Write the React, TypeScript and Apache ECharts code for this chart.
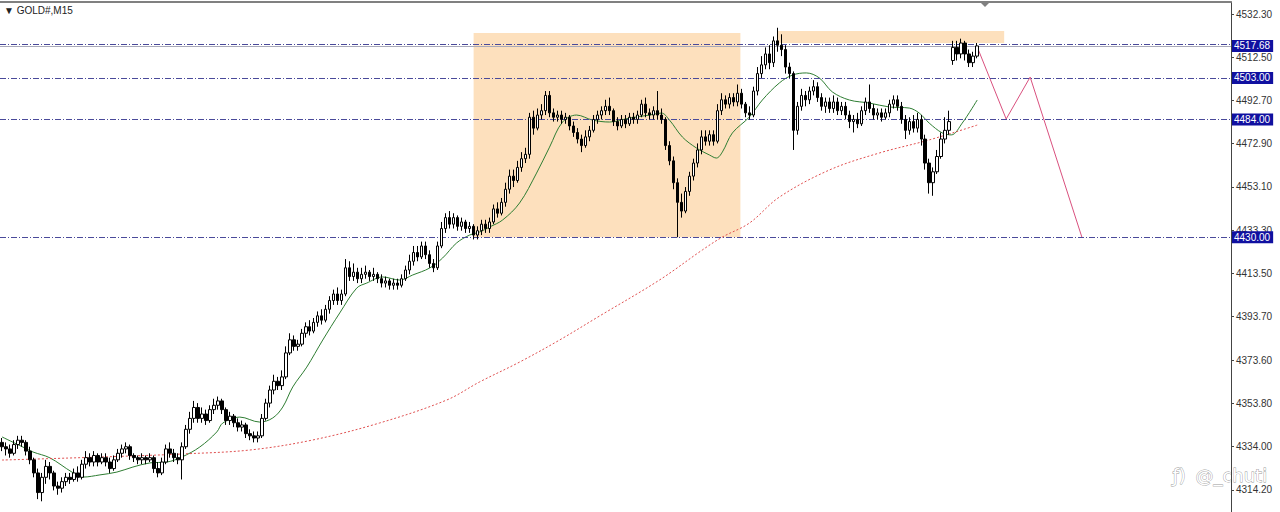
import React, { useEffect, useRef } from "react";
import * as echarts from "echarts";

// [open, close, low, high] per M15 bar
const candles: number[][] = [
  [4336,4334,4332,4338],[4334,4333,4330,4336],[4333,4331,4329,4335],[4331,4335,4330,4337],
  [4335,4337,4333,4339],[4337,4336,4334,4339],[4336,4332,4330,4337],[4332,4328,4326,4334],
  [4328,4322,4320,4329],[4322,4313,4310,4324],[4313,4320,4309,4322],[4320,4325,4317,4328],
  [4325,4322,4319,4327],[4322,4316,4314,4323],[4316,4315,4312,4318],[4315,4318,4313,4320],
  [4318,4320,4316,4322],[4320,4319,4317,4322],[4319,4322,4318,4324],[4322,4320,4318,4325],
  [4320,4326,4319,4328],[4326,4329,4324,4332],[4329,4327,4325,4331],[4327,4330,4325,4332],
  [4330,4327,4325,4331],[4327,4329,4326,4331],[4329,4327,4325,4331],[4327,4324,4322,4329],
  [4324,4328,4323,4330],[4328,4331,4327,4333],[4331,4333,4329,4335],[4333,4334,4331,4336],
  [4334,4330,4328,4335],[4330,4329,4327,4331],[4329,4328,4326,4330],[4328,4329,4326,4331],
  [4329,4328,4326,4330],[4328,4329,4327,4331],[4329,4324,4322,4330],[4324,4322,4320,4327],
  [4322,4327,4321,4329],[4327,4333,4326,4335],[4333,4331,4329,4336],[4331,4329,4327,4333],
  [4329,4328,4326,4331],[4328,4334,4319,4336],[4334,4342,4333,4344],[4342,4347,4340,4350],
  [4347,4352,4345,4355],[4352,4347,4345,4354],[4347,4349,4345,4352],[4349,4346,4344,4351],
  [4346,4351,4345,4353],[4351,4353,4349,4356],[4353,4355,4351,4357],[4355,4351,4349,4356],
  [4351,4346,4344,4352],[4346,4348,4344,4350],[4348,4345,4343,4349],[4345,4343,4341,4347],
  [4343,4344,4341,4346],[4344,4340,4338,4345],[4340,4339,4337,4342],[4339,4338,4336,4341],
  [4338,4339,4336,4341],[4339,4347,4338,4349],[4347,4354,4346,4356],[4354,4360,4352,4362],
  [4360,4364,4358,4367],[4364,4362,4360,4366],[4362,4366,4360,4369],[4366,4377,4365,4380],
  [4377,4383,4376,4386],[4383,4380,4378,4385],[4380,4381,4378,4383],[4381,4386,4380,4388],
  [4386,4389,4384,4391],[4389,4387,4385,4392],[4387,4391,4386,4393],[4391,4394,4389,4396],
  [4394,4392,4390,4397],[4392,4397,4391,4399],[4397,4401,4395,4403],[4401,4404,4399,4406],
  [4404,4401,4399,4407],[4401,4404,4399,4406],[4404,4416,4403,4420],[4416,4412,4410,4419],
  [4412,4414,4410,4418],[4414,4411,4409,4416],[4411,4413,4409,4416],[4413,4414,4411,4417],
  [4414,4412,4410,4415],[4412,4413,4410,4416],[4413,4411,4409,4414],[4411,4409,4407,4413],
  [4409,4410,4407,4412],[4410,4408,4406,4411],[4408,4409,4406,4411],[4409,4408,4406,4411],
  [4408,4411,4407,4413],[4411,4415,4410,4417],[4415,4419,4413,4422],[4419,4423,4417,4426],
  [4423,4421,4419,4426],[4421,4426,4420,4428],[4426,4422,4420,4428],[4422,4418,4416,4424],
  [4418,4416,4414,4420],[4416,4426,4415,4428],[4426,4434,4425,4437],[4434,4439,4432,4441],
  [4439,4436,4434,4442],[4436,4439,4434,4441],[4439,4435,4433,4440],[4435,4437,4433,4439],
  [4437,4434,4432,4438],[4434,4435,4432,4437],[4435,4431,4429,4436],[4431,4433,4429,4435],
  [4433,4436,4431,4438],[4436,4434,4432,4438],[4434,4437,4432,4439],[4437,4443,4436,4445],
  [4443,4441,4439,4446],[4441,4446,4440,4448],[4446,4452,4444,4455],[4452,4458,4450,4461],
  [4458,4456,4453,4461],[4456,4462,4455,4465],[4462,4466,4460,4469],[4466,4468,4464,4471],
  [4468,4485,4466,4487],[4485,4480,4477,4488],[4480,4486,4479,4489],[4486,4488,4484,4491],
  [4488,4495,4486,4497],[4495,4487,4485,4497],[4487,4485,4483,4489],[4485,4486,4483,4488],
  [4486,4484,4482,4488],[4484,4485,4482,4487],[4485,4481,4479,4486],[4481,4478,4476,4483],
  [4478,4475,4473,4480],[4475,4472,4469,4477],[4472,4476,4471,4479],[4476,4479,4474,4481],
  [4479,4484,4478,4486],[4484,4486,4482,4488],[4486,4488,4484,4490],[4488,4490,4486,4493],
  [4490,4488,4486,4494],[4488,4483,4481,4489],[4483,4481,4479,4485],[4481,4484,4480,4486],
  [4484,4482,4480,4486],[4482,4485,4481,4487],[4485,4484,4482,4487],[4484,4486,4482,4488],
  [4486,4491,4485,4493],[4491,4487,4485,4494],[4487,4486,4484,4489],[4486,4488,4484,4490],
  [4488,4486,4484,4497],[4486,4484,4482,4489],[4484,4472,4470,4485],[4472,4465,4463,4474],
  [4465,4455,4452,4467],[4455,4446,4430,4457],[4446,4442,4439,4450],[4442,4451,4441,4453],
  [4451,4458,4449,4460],[4458,4464,4456,4466],[4464,4470,4462,4473],[4470,4476,4468,4479],
  [4476,4474,4472,4479],[4474,4477,4472,4479],[4477,4474,4472,4479],[4474,4488,4473,4491],
  [4488,4493,4486,4496],[4493,4491,4489,4495],[4491,4494,4489,4496],[4494,4492,4490,4496],
  [4492,4496,4490,4500],[4496,4491,4489,4498],[4491,4487,4485,4492],[4487,4486,4484,4490],
  [4486,4497,4485,4499],[4497,4505,4495,4508],[4505,4509,4503,4513],[4509,4514,4507,4517],
  [4514,4510,4507,4518],[4510,4520,4508,4522],[4520,4518,4515,4526],[4518,4516,4513,4523],
  [4516,4508,4505,4518],[4508,4505,4503,4510],[4505,4479,4470,4506],[4479,4490,4477,4492],
  [4490,4495,4488,4498],[4495,4493,4490,4497],[4493,4497,4491,4499],[4497,4499,4495,4502],
  [4499,4494,4492,4501],[4494,4490,4488,4496],[4490,4492,4487,4494],[4492,4489,4487,4494],
  [4489,4492,4487,4495],[4492,4488,4486,4494],[4488,4490,4486,4492],[4490,4486,4484,4492],
  [4486,4483,4480,4488],[4483,4484,4478,4486],[4484,4482,4480,4487],[4482,4488,4481,4490],
  [4488,4492,4486,4494],[4492,4489,4487,4500],[4489,4486,4484,4491],[4486,4487,4484,4489],
  [4487,4485,4483,4489],[4485,4487,4484,4489],[4487,4491,4485,4493],[4491,4493,4489,4495],
  [4493,4490,4488,4495],[4490,4484,4482,4492],[4484,4479,4475,4486],[4479,4483,4477,4485],
  [4483,4480,4478,4486],[4480,4484,4478,4487],[4484,4475,4472,4486],[4475,4464,4461,4477],
  [4464,4455,4450,4466],[4455,4460,4449,4462],[4460,4467,4459,4470],[4467,4475,4466,4478],
  [4475,4479,4473,4485],[4479,4483,4477,4488],[4511,4517,4509,4520],[4517,4514,4511,4520],
  [4514,4519,4512,4521],[4519,4514,4511,4520],[4514,4510,4508,4516],[4510,4513,4508,4515],
  [4513,4517.68,4512,4519],
];

// fast moving average: [bar index, price]
const maFast: number[][] = [
  [0,4338.5],[5.75,4333.4],[7.75,4331.6],[12,4328.9],[17.5,4322.4],[20.25,4320.1],[24.5,4321.1],
  [28.75,4322.4],[32.75,4324.7],[37,4326.6],[41.25,4327.0],[45,4329.3],[49.5,4333.9],[53.75,4340.8],
  [55.25,4344.9],[59.5,4347.6],[64.5,4345.3],[67.75,4347.2],[70.25,4352.2],[72.75,4361.4],
  [76.25,4370.5],[80.25,4382.9],[84.5,4395.3],[88.75,4406.7],[91.25,4409.0],[95.25,4411.8],
  [99.5,4410.4],[102.75,4412.7],[107,4415.9],[110.25,4420.5],[113.75,4427.4],[117,4431.0],
  [119.5,4432.4],[122,4434.7],[125.25,4437.9],[129.5,4445.7],[133.75,4459.4],[137,4471.3],
  [140.25,4482.8],[143.75,4486.0],[147.75,4483.7],[152,4482.8],[157,4484.6],[162,4486.0],
  [165,4486.9],[167,4483.7],[170.25,4475.9],[173.75,4470.9],[177,4467.7],[178.75,4466.3],
  [180.25,4469.1],[182.75,4477.8],[187,4485.1],[190.25,4492.9],[194.5,4500.7],[197.75,4504.3],
  [201.25,4505.3],[204.5,4503.0],[207.75,4496.6],[212,4492.9],[217,4491.5],[222,4489.7],
  [227,4489.2],[229.5,4486.9],[232,4482.3],[235.25,4477.8],[237.5,4476.9],[240.25,4482.3],
  [244,4492.9],
];

// slow moving average (dotted red)
const maSlow: number[][] = [
  [0,4327.9],[16.25,4328.8],[32.75,4329.8],[45.25,4330.7],[62,4332.5],[77.75,4337.1],
  [94.5,4344.9],[111.25,4355.4],[119.5,4363.7],[129.5,4372.8],[139.5,4382.9],[149.5,4393.9],
  [164.5,4410.4],[175.25,4424.2],[180.25,4430.1],[187,4436.5],[194.5,4448.4],[207,4460.8],
  [219.5,4468.6],[232,4474.6],[244,4481.4],
];

// drawn projection path
const projection: number[][] = [[244,4517.2],[251.25,4484.2],[257.25,4503.4],[270.25,4429.7]];

// horizontal levels
const levels = [4503.0, 4484.0, 4430.0];
const upperLevel = 4518.6;
const bidPrice = 4517.68;

// shaded zones: [x0, y0, x1, y1]
const zones: number[][] = [
  [118, 4523.6, 184.75, 4430.0],
  [194, 4524.5, 250.75, 4519.0],
];

const tickValues = [4532.3,4512.5,4492.7,4472.9,4453.1,4433.3,4413.5,4393.7,4373.6,4353.8,4334.0,4314.2];

const SLOTS = 308;
const categories = Array.from({ length: SLOTS }, (_, i) => String(i));

export default function App() {
  const ref = useRef<HTMLDivElement>(null);
  useEffect(() => {
    if (!ref.current) return;
    const chart = echarts.init(ref.current, undefined, { renderer: "svg" });
    const dashDot = [6, 2, 1, 2];
    const tag = (v: number) => ({
      show: true,
      position: "end",
      distance: 1,
      formatter: v.toFixed(2),
      color: "#ffffff",
      backgroundColor: "#1010a0",
      padding: [1, 3, 1, 2],
      fontSize: 10,
      fontFamily: "Liberation Sans",
    });
    chart.setOption({
      animation: false,
      backgroundColor: "#ffffff",
      textStyle: { fontFamily: "Liberation Sans" },
      grid: { left: 0, right: 49, top: 2, bottom: 0, containLabel: false },
      xAxis: [
        {
          type: "category",
          data: categories,
          boundaryGap: true,
          axisLine: { show: false },
          axisTick: { show: false },
          axisLabel: { show: false },
          splitLine: { show: false },
        },
        {
          type: "value",
          min: -0.5,
          max: SLOTS - 0.5,
          position: "top",
          axisLine: { show: true, onZero: false, lineStyle: { color: "#808080", width: 2 } },
          axisTick: { show: false },
          axisLabel: { show: false },
          splitLine: { show: false },
        },
      ],
      yAxis: {
        type: "value",
        position: "right",
        min: 4304.1,
        max: 4537.8,
        axisLine: { show: true, onZero: false, lineStyle: { color: "#444444", width: 1 } },
        axisTick: { show: true, length: 3, inside: false, customValues: tickValues, lineStyle: { color: "#444" } },
        axisLabel: {
          show: true,
          customValues: tickValues,
          formatter: (v: number) => v.toFixed(2),
          color: "#333333",
          fontSize: 10,
          margin: 5,
          fontFamily: "Liberation Sans",
        },
        splitLine: { show: false },
      },
      series: [
        {
          type: "line",
          name: "zones",
          xAxisIndex: 1,
          data: [],
          silent: true,
          markArea: {
            silent: true,
            itemStyle: { color: "#fde0bd", opacity: 1 },
            data: zones.map((z) => [
              { xAxis: z[0], yAxis: z[1] },
              { xAxis: z[2], yAxis: z[3] },
            ]),
          },
        },
        {
          type: "candlestick",
          xAxisIndex: 0,
          data: candles,
          barWidth: 3,
          z: 5,
          itemStyle: {
            color: "#ffffff",
            color0: "#000000",
            borderColor: "#000000",
            borderColor0: "#000000",
            borderWidth: 1,
          },
        },
        {
          type: "line",
          xAxisIndex: 1,
          data: maFast,
          smooth: 0.35,
          symbol: "none",
          z: 4,
          lineStyle: { color: "#2e7d32", width: 1 },
        },
        {
          type: "line",
          xAxisIndex: 1,
          data: maSlow,
          smooth: 0.35,
          symbol: "none",
          z: 4,
          lineStyle: { color: "#e05050", width: 1, type: [2, 2] },
        },
        {
          type: "line",
          xAxisIndex: 1,
          data: projection,
          symbol: "none",
          z: 4,
          lineStyle: { color: "#d9507e", width: 1 },
          markLine: {
            silent: true,
            symbol: ["none", "none"],
            animation: false,
            data: [
              { yAxis: upperLevel, lineStyle: { color: "#4a4a9a", width: 1, type: dashDot }, label: { show: false } },
              { yAxis: bidPrice, lineStyle: { color: "#a8a8b8", width: 1, type: "solid" }, label: tag(bidPrice) },
              ...levels.map((v) => ({
                yAxis: v,
                lineStyle: { color: "#4a4a9a", width: 1, type: dashDot },
                label: tag(v),
              })),
            ],
          },
        },
      ],
      graphic: [
        {
          type: "text",
          left: 4,
          top: 5,
          style: { text: "▼ GOLD#,M15", fill: "#222222", fontSize: 10, fontFamily: "Liberation Sans" },
        },
        {
          type: "polygon",
          shape: { points: [[980, 2], [990, 2], [985, 7]] },
          style: { fill: "#808080" },
        },
        {
          type: "text",
          left: 1172,
          top: 466,
          style: { text: "ƒ)", fill: "#ffffff", stroke: "#999999", lineWidth: 0.8, fontSize: 18, fontFamily: "DejaVu Sans" },
        },
        {
          type: "text",
          left: 1195,
          top: 466,
          style: { text: "@_chuti", fill: "#ffffff", stroke: "#999999", lineWidth: 0.8, fontSize: 18, fontFamily: "DejaVu Sans" },
        },
      ],
    });
    return () => chart.dispose();
  }, []);
  return (
    <div
      ref={ref}
      style={{ position: "absolute", left: 0, top: 0, width: 1280, height: 512 }}
    />
  );
}
